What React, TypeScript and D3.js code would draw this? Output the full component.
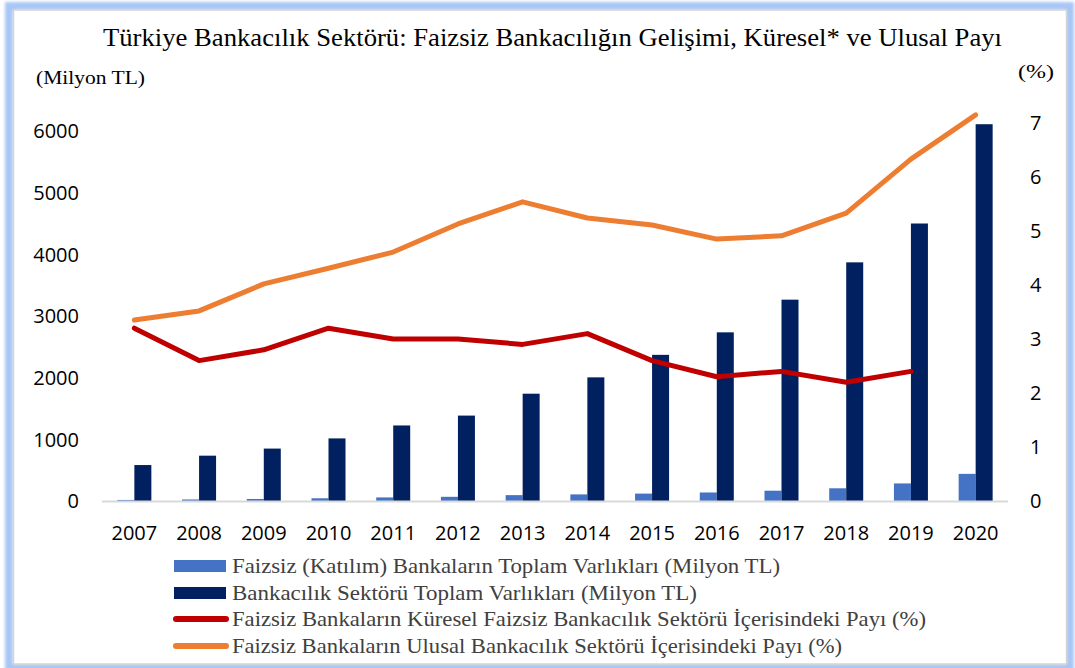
import React from 'react';
import * as d3 from 'd3';

const years = ['2007','2008','2009','2010','2011','2012','2013','2014','2015','2016','2017','2018','2019','2020'];
const katilimAssets = [17, 25, 33, 44, 58, 68, 95, 107, 120, 138, 167, 206, 285, 440];
const sectorAssets = [583, 735, 850, 1015, 1225, 1385, 1740, 2005, 2370, 2735, 3265, 3870, 4500, 6110];
const globalShare: (number | null)[] = [3.2, 2.6, 2.8, 3.2, 3.0, 3.0, 2.9, 3.1, 2.6, 2.3, 2.4, 2.2, 2.4, null];
const nationalShare = [3.35, 3.52, 4.02, 4.31, 4.61, 5.13, 5.54, 5.24, 5.11, 4.85, 4.91, 5.33, 6.33, 7.15];
const leftTicks = [0, 1000, 2000, 3000, 4000, 5000, 6000];
const rightTicks = [0, 1, 2, 3, 4, 5, 6, 7];
const legendLabels = [
  'Faizsiz (Katılım) Bankaların Toplam Varlıkları (Milyon TL)',
  'Bankacılık Sektörü Toplam Varlıkları (Milyon TL)',
  'Faizsiz Bankaların Küresel Faizsiz Bankacılık Sektörü İçerisindeki Payı (%)',
  'Faizsiz Bankaların Ulusal Bankacılık Sektörü İçerisindeki Payı (%)',
];
const titleText = 'Türkiye Bankacılık Sektörü: Faizsiz Bankacılığın Gelişimi, Küresel* ve Ulusal Payı';

const COL_LIGHT = '#4472C4';
const COL_DARK = '#002060';
const COL_RED = '#C00000';
const COL_ORANGE = '#ED7D31';
const SERIF = 'Liberation Serif';
const SANS = 'Open Sans';

export default function App() {
  const W = 1075, H = 668;
  const x = d3.scaleBand<string>().domain(years).range([102, 1008]).padding(0);
  const yL = d3.scaleLinear().domain([0, 6000]).range([501, 131]);
  const yR = d3.scaleLinear().domain([0, 7]).range([501, 123]);
  const bw = 17;
  const cx = (y: string) => (x(y) as number) + x.bandwidth() / 2;

  const lineGen = d3.line<number | null>()
    .defined(d => d !== null)
    .x((_, i) => cx(years[i]))
    .y(d => yR(d as number));

  const legendY = [566, 593, 619, 646];
  const legendEnd = [780, 697, 926, 842];

  return (
    <svg width={W} height={H} style={{ position: 'absolute', left: 0, top: 0, background: '#fff' }}>
      <defs>
        <filter id="glow" x="-5%" y="-5%" width="110%" height="110%">
          <feGaussianBlur stdDeviation="1.5" />
        </filter>
      </defs>
      {/* frame */}
      <rect x={9} y={6} width={1061} height={662} fill="none" stroke="#a8c6f6" strokeWidth={8} filter="url(#glow)" />
      <rect x={13.5} y={10} width={1053} height={654} fill="#fff" stroke="#d4d4d4" strokeWidth={1.5} />

      {/* title */}
      <text x={103} y={46} fontFamily={SERIF} fontSize={25.5} fill="#000" textLength={899} lengthAdjust="spacingAndGlyphs">{titleText}</text>
      <text x={36} y={84} fontFamily={SERIF} fontSize={19} fill="#000" textLength={109} lengthAdjust="spacingAndGlyphs">(Milyon TL)</text>
      <text x={1018} y={78} fontFamily={SERIF} fontSize={19} fill="#000" textLength={36} lengthAdjust="spacingAndGlyphs">(%)</text>

      {/* left ticks */}
      {leftTicks.map(t => (
        <text key={'l' + t} x={79} y={yL(t)} dy="0.36em" textAnchor="end" fontFamily={SANS} fontSize={20} fill="#000">{t}</text>
      ))}
      {/* right ticks */}
      {rightTicks.map(t => (
        <text key={'r' + t} x={1030} y={yR(t)} dy="0.36em" textAnchor="start" fontFamily={SANS} fontSize={20} fill="#000">{t}</text>
      ))}

      {/* bars */}
      {years.map((yr, i) => (
        <g key={'b' + yr}>
          <rect x={cx(yr) - bw} y={yL(katilimAssets[i])} width={bw} height={501 - yL(katilimAssets[i])} fill={COL_LIGHT} />
          <rect x={cx(yr)} y={yL(sectorAssets[i])} width={bw} height={501 - yL(sectorAssets[i])} fill={COL_DARK} />
        </g>
      ))}

      {/* axis line */}
      <line x1={102} x2={1008} y1={501.5} y2={501.5} stroke="#d9d9d9" strokeWidth={2} />

      {/* year labels */}
      {years.map(yr => (
        <text key={'y' + yr} x={cx(yr)} y={533} dy="0.36em" textAnchor="middle" fontFamily={SANS} fontSize={20} fill="#000">{yr}</text>
      ))}

      {/* lines */}
      <path d={lineGen(nationalShare) || ''} fill="none" stroke={COL_ORANGE} strokeWidth={5} strokeLinecap="round" strokeLinejoin="round" />
      <path d={lineGen(globalShare) || ''} fill="none" stroke={COL_RED} strokeWidth={5} strokeLinecap="round" strokeLinejoin="round" />

      {/* legend */}
      <rect x={174} y={legendY[0] - 6} width={52} height={12} fill={COL_LIGHT} />
      <rect x={174} y={legendY[1] - 6} width={52} height={12} fill={COL_DARK} />
      <line x1={176} x2={226} y1={legendY[2]} y2={legendY[2]} stroke={COL_RED} strokeWidth={6} strokeLinecap="round" />
      <line x1={176} x2={226} y1={legendY[3]} y2={legendY[3]} stroke={COL_ORANGE} strokeWidth={6} strokeLinecap="round" />
      {legendLabels.map((l, i) => (
        <text key={'lg' + i} x={232} y={legendY[i]} dy="0.33em" fontFamily={SERIF} fontSize={21} fill="#404040"
          textLength={legendEnd[i] - 232} lengthAdjust="spacingAndGlyphs">{l}</text>
      ))}
    </svg>
  );
}
